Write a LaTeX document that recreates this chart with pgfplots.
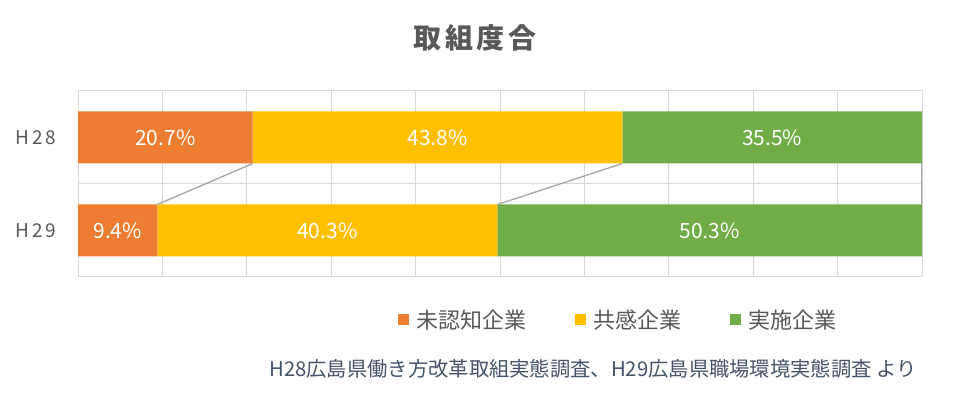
\documentclass[border=0pt]{standalone}
\usepackage{fontspec}
\setmainfont{Noto Sans CJK JP}
\usepackage{pgfplots}
\pgfplotsset{compat=1.18}
\definecolor{cOr}{HTML}{ED7D31}
\definecolor{cYe}{HTML}{FFC000}
\definecolor{cGr}{HTML}{70AD47}
\definecolor{cGrid}{HTML}{D9D9D9}
\definecolor{cTxt}{HTML}{595959}
\definecolor{cSrc}{HTML}{44546A}
\definecolor{cSer}{HTML}{A5A5A5}
\pgfplotsset{
 base/.style={
  scale only axis, width=844bp, height=186bp,
  at={(78bp,118bp)}, anchor=south west,
  xmin=0, xmax=100, ymin=-0.5, ymax=1.5,
 }
}
\begin{document}
\begin{tikzpicture}
\path (0,0) rectangle (955bp,395bp);
\node[font=\fontsize{28bp}{30bp}\selectfont\bfseries\addfontfeatures{LetterSpace=13}, text=cTxt] at (475bp,357bp) {取組度合};
\begin{axis}[base, xbar stacked, bar width=52bp,
  axis line style={draw=cGrid, line width=1bp},
  xtick={0,10,...,100}, xticklabels={}, xmajorgrids,
  grid style={draw=cGrid, line width=1bp},
  major tick length=0,
  ytick={0,1}, yticklabels={H29,H28},
  yticklabel style={font=\fontsize{19bp}{20bp}\selectfont\addfontfeatures{LetterSpace=16}, text=cTxt, anchor=east, xshift=-18bp},
  extra y ticks={0.5}, extra y tick labels={}, extra y tick style={grid=major, major tick length=0},
  legend columns=3,
  legend image code/.code={\path[#1, draw=none] (0bp,-5.5bp) rectangle (11bp,5.5bp);},
  legend style={at={(0.640,-0.231)}, anchor=center, draw=none, fill=none,
    font=\fontsize{22bp}{24bp}\selectfont, text=cTxt,
    /tikz/every odd column/.append style={column sep=6bp},
    /tikz/every even column/.append style={column sep=46bp}},
]
\addplot[fill=cOr, draw=none] coordinates {(20.7,1) (9.4,0)};
\addplot[fill=cYe, draw=none] coordinates {(43.8,1) (40.3,0)};
\addplot[fill=cGr, draw=none] coordinates {(35.5,1) (50.3,0)};
\legend{未認知企業,共感企業,実施企業}
\end{axis}
\begin{axis}[base, hide axis]
\addplot[cSer, line width=1.3bp] coordinates {(20.7,0.7204) (9.4,0.2796)};
\addplot[cSer, line width=1.3bp] coordinates {(64.5,0.7204) (49.7,0.2796)};
\addplot[cSer, line width=1.3bp] coordinates {(100,0.7204) (100,0.2796)};
\addplot[only marks, mark=none, point meta=explicit symbolic, nodes near coords,
  nodes near coords align=center,
  every node near coord/.append style={text=white, font=\fontsize{21bp}{24bp}\selectfont}]
  coordinates {(10.35,1) [20.7\%] (42.6,1) [43.8\%] (82.25,1) [35.5\%]
               (4.7,0) [9.4\%] (29.55,0) [40.3\%] (74.85,0) [50.3\%]};
\end{axis}
\node[anchor=east, text=cSrc, font=\fontsize{20.3bp}{22bp}\selectfont] at (920bp,26bp) {H28広島県働き方改革取組実態調査、H29広島県職場環境実態調査 より};
\end{tikzpicture}
\end{document}
